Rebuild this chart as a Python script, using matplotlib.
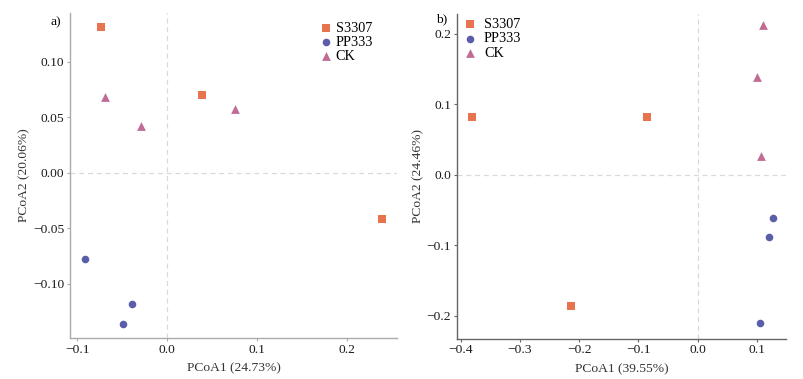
import matplotlib
matplotlib.use("Agg")
import matplotlib.pyplot as plt

plt.rcParams['font.family'] = ['Liberation Serif', 'DejaVu Serif']
plt.rcParams['axes.unicode_minus'] = True

groups = ['S3307', 'PP333', 'CK']
colors = ['#E8734F', '#5A5EA8', '#C06C95']
markers = ['s', 'o', '^']
sizes = [30, 30, 40]

# panel a
a_x = {'S3307': [-0.074, 0.039, 0.239],
       'PP333': [-0.091, -0.039, -0.049],
       'CK': [-0.069, -0.029, 0.076]}
a_y = {'S3307': [0.131, 0.070, -0.042],
       'PP333': [-0.078, -0.118, -0.136],
       'CK': [0.068, 0.042, 0.057]}

# panel b
b_x = {'S3307': [-0.381, -0.085, -0.213],
       'PP333': [0.127, 0.120, 0.106],
       'CK': [0.110, 0.101, 0.108]}
b_y = {'S3307': [0.082, 0.082, -0.186],
       'PP333': [-0.061, -0.089, -0.210],
       'CK': [0.212, 0.138, 0.026]}

fs = 9.7

fig = plt.figure(figsize=(8.04, 3.79), dpi=100)
ax1 = fig.add_axes([0.087, 0.108, 0.407, 0.858])
ax2 = fig.add_axes([0.568, 0.106, 0.410, 0.857])


def draw(ax, xs, ys, spine_col):
    ax.axhline(0, color='#d9d9d9', lw=0.9, ls=(0, (4, 3)), zorder=0)
    ax.axvline(0, color='#d9d9d9', lw=0.9, ls=(0, (4, 3)), zorder=0)
    for g, c, m, s in zip(groups, colors, markers, sizes):
        ax.scatter(xs[g], ys[g], color=c, marker=m, s=s, lw=0, label=g, zorder=3)
    for s in ['top', 'right']:
        ax.spines[s].set_visible(False)
    for s in ['left', 'bottom']:
        ax.spines[s].set_color(spine_col)
        ax.spines[s].set_linewidth(1.0)
    ax.tick_params(colors=spine_col, labelcolor='#1a1a1a', labelsize=fs,
                   length=2, width=0.8, pad=2)


draw(ax1, a_x, a_y, '#aaaaaa')
ax1.set_xlim(-0.108, 0.256)
ax1.set_ylim(-0.149, 0.144)
ax1.set_xticks([-0.1, 0.0, 0.1, 0.2])
ax1.set_yticks([-0.10, -0.05, 0.0, 0.05, 0.10])
ax1.set_yticklabels(['\u22120.10', '\u22120.05', '0.00', '0.05', '0.10'])
ax1.set_xticklabels(['\u22120.1', '0.0', '0.1', '0.2'])
ax1.set_xlabel('PCoA1 (24.73%)', fontsize=fs, color='#333333', labelpad=5)
ax1.set_ylabel('PCoA2 (20.06%)', fontsize=fs, color='#333333', labelpad=2)
ax1.text(-0.06, 0.97, 'a)', transform=ax1.transAxes, fontsize=fs, va='center')
ax1.legend(loc='upper right', bbox_to_anchor=(0.935, 0.982), frameon=False, fontsize=fs + 0.5,
           handletextpad=0.3, handlelength=0.8, labelspacing=0.08, borderaxespad=0,
           borderpad=0.2)

draw(ax2, b_x, b_y, '#666666')
ax2.set_xlim(-0.407, 0.15)
ax2.set_ylim(-0.233, 0.228)
ax2.set_xticks([-0.4, -0.3, -0.2, -0.1, 0.0, 0.1])
ax2.set_xticklabels(['\u22120.4', '\u22120.3', '\u22120.2', '\u22120.1', '0.0', '0.1'])
ax2.set_yticks([-0.2, -0.1, 0.0, 0.1, 0.2])
ax2.set_yticklabels(['\u22120.2', '\u22120.1', '0.0', '0.1', '0.2'])
ax2.set_xlabel('PCoA1 (39.55%)', fontsize=fs, color='#333333', labelpad=5)
ax2.set_ylabel('PCoA2 (24.46%)', fontsize=fs, color='#333333', labelpad=2)
ax2.text(-0.063, 0.985, 'b)', transform=ax2.transAxes, fontsize=fs, va='center')
ax2.legend(loc='upper left', bbox_to_anchor=(0.014, 0.997), frameon=False, fontsize=fs + 0.5,
           handletextpad=0.6, handlelength=0.8, labelspacing=0.1, borderaxespad=0,
           borderpad=0.2)

fig.savefig('out.png', dpi=100)
